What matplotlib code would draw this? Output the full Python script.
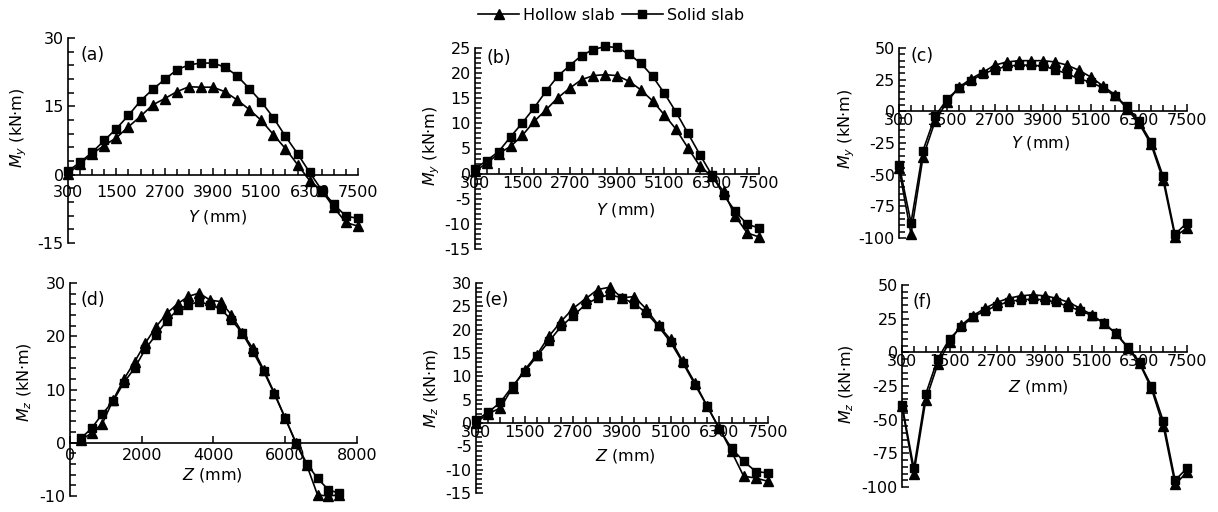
"""Bending moment distributions along Y / Z for hollow vs solid slab,
six panels (a)-(f). Writes out.png (1218x512).
"""
import matplotlib; matplotlib.use("Agg")
import matplotlib.pyplot as plt
from matplotlib.ticker import MultipleLocator
from matplotlib.lines import Line2D

plt.rcParams.update({"font.family": "DejaVu Sans", "font.size": 11.5,
                     "mathtext.fontset": "dejavusans", "axes.unicode_minus": False})

W, H = 1218, 512

# measuring positions (mm), same for every panel
pos = [300, 600, 900, 1200, 1500, 1800, 2100, 2400, 2700, 3000, 3300, 3600, 3900,
       4200, 4500, 4800, 5100, 5400, 5700, 6000, 6300, 6600, 6900, 7200, 7500]
cat_ticks = [300, 1500, 2700, 3900, 5100, 6300, 7500]
z_ticks = [0, 2000, 4000, 6000, 8000]

# (a) My along Y
a_hollow = [0.2, 2.4, 4.6, 6.4, 8.1, 10.5, 12.8, 15.3, 16.7, 18.2, 19.3, 19.2, 19.2,
            18.2, 16.4, 14.3, 11.9, 8.8, 5.7, 2.2, -1.3, -3.5, -7.2, -10.5, -11.3]
a_solid = [0.8, 2.7, 4.9, 7.5, 10.1, 13.0, 16.2, 18.7, 20.9, 23.0, 24.1, 24.5, 24.5,
           23.6, 21.7, 18.9, 16.0, 12.5, 8.4, 4.6, 0.5, -3.4, -6.5, -9.1, -9.6]
# (b) My along Y
b_hollow = [0.5, 2.1, 4.0, 5.4, 7.6, 10.4, 12.7, 15.1, 17.0, 18.7, 19.5, 19.7, 19.5,
            18.4, 16.7, 14.5, 11.7, 8.8, 5.1, 1.5, -0.5, -3.5, -8.5, -11.8, -12.6]
b_solid = [1.0, 2.6, 4.4, 7.3, 10.1, 13.1, 16.4, 19.4, 21.5, 23.5, 24.7, 25.3, 25.1,
           23.8, 22.0, 19.4, 16.0, 12.2, 8.0, 3.8, -0.2, -4.2, -7.5, -10.1, -10.8]
# (c) My along Y
c_hollow = [-45, -97, -36, -8, 7.6, 19, 25.7, 31, 36.5, 39, 40, 40, 40,
            39, 36.5, 32.4, 27, 20, 13, 2, -9.5, -26, -54, -99, -92]
c_solid = [-42, -88, -31, -4, 9.5, 18.4, 24.3, 29.7, 33, 35.7, 36.5, 36.5, 35.7,
           33, 29.7, 25.7, 23, 18.4, 12, 4, -8, -24, -51, -97, -88]
# (d) Mz along Z
d_hollow = [0.5, 1.8, 3.6, 8.0, 11.9, 15.2, 18.7, 21.8, 24.3, 26.1, 27.5, 28.1, 26.8,
            26.5, 24.0, 20.7, 17.7, 13.7, 9.3, 4.6, -0.1, -4.2, -9.8, -10.0, -9.8]
d_solid = [0.8, 2.7, 5.4, 7.8, 11.3, 14.0, 17.6, 20.3, 22.9, 25.0, 25.9, 26.5, 25.9,
           25.1, 23.1, 20.6, 17.1, 13.4, 9.1, 4.6, 0.0, -3.9, -6.7, -8.8, -9.5]
# (e) Mz along Z
e_hollow = [0.1, 2.0, 3.2, 7.6, 11.4, 14.6, 18.6, 21.8, 24.6, 26.6, 28.6, 29.1, 26.8,
            27.1, 24.4, 20.9, 17.9, 13.2, 8.6, 3.6, -1.1, -6.1, -11.4, -11.8, -12.5]
e_solid = [0.6, 2.3, 4.4, 7.9, 11.0, 14.3, 17.5, 20.7, 23.0, 25.4, 26.8, 27.5, 26.8,
           25.6, 23.6, 20.7, 17.3, 12.9, 8.2, 3.6, -1.3, -5.4, -8.2, -10.4, -10.7]
# (f) Mz along Z
f_hollow = [-40, -90, -35.5, -9, 8, 20.3, 27.3, 32.8, 37.2, 40.2, 42, 42.7, 42,
            40.2, 37.2, 32.8, 27.8, 21.6, 14.1, 3.5, -8.2, -26.8, -54.6, -98, -89]
f_solid = [-39, -86, -31, -5, 10, 19, 26.5, 30.8, 34.7, 37.7, 39, 39.5, 39,
           37.2, 34, 31, 27.3, 21.6, 14.1, 4.2, -7.4, -24.8, -51, -95, -86]


def rect(l, t, r, b):
    return [l / W, 1 - b / H, (r - l) / W, (b - t) / H]


def panel(fig, box, hollow, solid, xlim, ylim, ymaj, ymin, xticks, xminor, xpad,
          axis, comp, tag, xlab_xy, ylab_xy, tag_xy):
    ax = fig.add_axes(rect(*box))
    kw = dict(color="black", lw=1.2, clip_on=False, zorder=3)
    ax.plot(pos, hollow, marker="^", ms=7.5, **kw)
    ax.plot(pos, solid, marker="s", ms=6.2, **kw)
    ax.set_xlim(*xlim); ax.set_ylim(*ylim)
    for s in ("top", "right"):
        ax.spines[s].set_visible(False)
    ax.spines["bottom"].set_position(("data", 0))
    for s in ("left", "bottom"):
        ax.spines[s].set_linewidth(1.2)
    ax.set_xticks(xticks)
    if xminor is not None:
        ax.set_xticks(xminor, minor=True)
    ax.yaxis.set_major_locator(MultipleLocator(ymaj))
    ax.yaxis.set_minor_locator(MultipleLocator(ymin))
    ax.tick_params(which="both", direction="in", width=1.1)
    ax.tick_params(which="major", length=5)
    ax.tick_params(which="minor", length=4)
    ax.tick_params(axis="x", pad=xpad)
    ax.tick_params(axis="y", pad=3)
    ax.set_xlabel(f"${axis}$ (mm)")
    ax.set_ylabel(f"$M_{comp}$ (kN·m)")
    ax.xaxis.set_label_coords(xlab_xy[0] / W, 1 - xlab_xy[1] / H, transform=fig.transFigure)
    ax.yaxis.set_label_coords(ylab_xy[0] / W, 1 - ylab_xy[1] / H, transform=fig.transFigure)
    ax.xaxis.label.set_va("center")
    ax.yaxis.label.set_va("center")
    fig.text(tag_xy[0] / W, 1 - tag_xy[1] / H, tag, ha="left", va="center", fontsize=12.5)
    return ax


def main():
    fig = plt.figure(figsize=(W / 100, H / 100), dpi=100)
    cy = (300, 7500)
    panel(fig, (68, 38, 358, 243), a_hollow, a_solid, cy, (-15, 30), 15, 3,
          cat_ticks, pos, 7.5, "Y", "y", "(a)", (218, 217), (19, 128), (80, 55))
    panel(fig, (475, 48, 759, 249), b_hollow, b_solid, cy, (-15, 25), 5, 1,
          cat_ticks, pos, 1.5, "Y", "y", "(b)", (626, 210), (432, 146), (487, 58))
    panel(fig, (899, 48, 1187, 238), c_hollow, c_solid, cy, (-100, 50), 25, 5,
          cat_ticks, pos, 1.5, "Y", "y", "(c)", (1041, 143), (847, 129), (910, 56))
    panel(fig, (70, 283, 357, 496), d_hollow, d_solid, (0, 8000), (-10, 30), 10, 2,
          z_ticks, None, 4.0, "Z", "z", "(d)", (212, 475), (25, 382), (80, 300))
    panel(fig, (476, 283, 768, 493), e_hollow, e_solid, cy, (-15, 30), 5, 1,
          cat_ticks, pos, 1.5, "Z", "z", "(e)", (625, 456), (432, 388), (485, 300))
    panel(fig, (902, 285, 1187, 487), f_hollow, f_solid, cy, (-100, 50), 25, 5,
          cat_ticks, pos, 1.5, "Z", "z", "(f)", (1038, 387), (847, 384), (912, 302))

    handles = [Line2D([], [], color="black", lw=1.2, marker="^", ms=7.5),
               Line2D([], [], color="black", lw=1.2, marker="s", ms=6.2)]
    fig.legend(handles, ["Hollow slab", "Solid slab"], loc="center",
               bbox_to_anchor=(611 / W, 1 - 15 / H), ncol=2, frameon=False,
               handlelength=2.6, handletextpad=0.25, columnspacing=0.4,
               fontsize=11.5, borderpad=0)
    fig.savefig("out.png", dpi=100)
    plt.close(fig)


if __name__ == "__main__":
    main()
